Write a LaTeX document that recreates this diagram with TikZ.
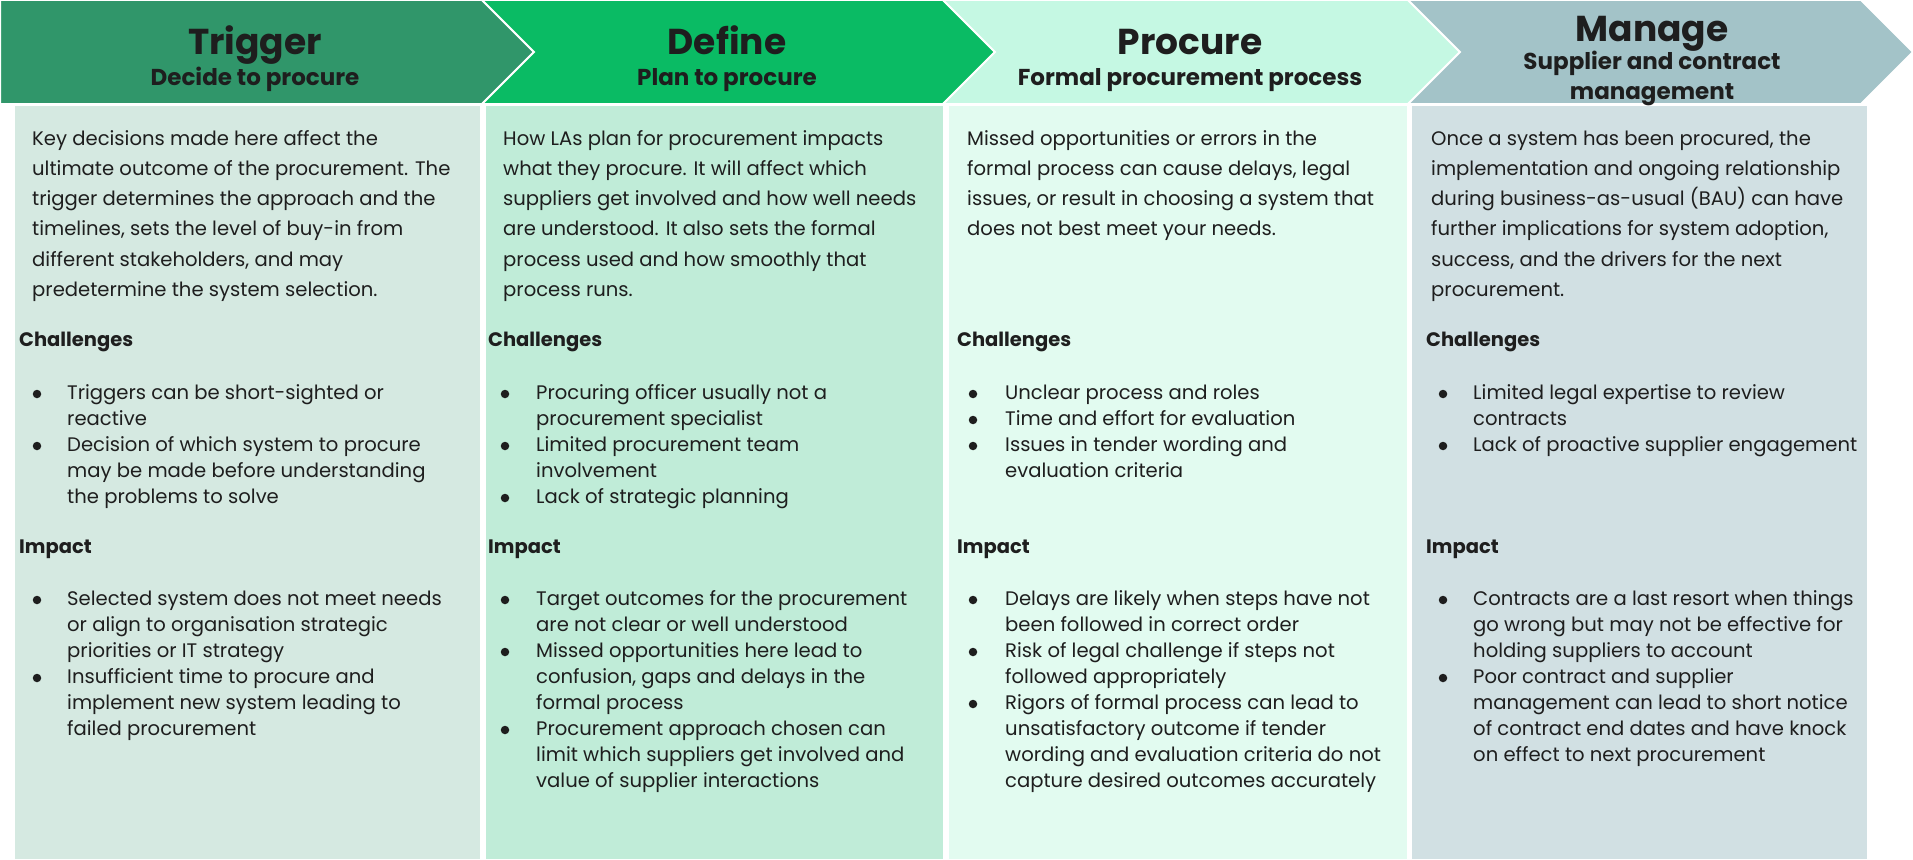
\documentclass[tikz,border=0pt]{standalone}
\usepackage{fontspec}
\setmainfont{Poppins}
\usetikzlibrary{positioning}

\definecolor{trighead}{HTML}{30966A}
\definecolor{defhead}{HTML}{0ABB64}
\definecolor{prochead}{HTML}{C5F8E3}
\definecolor{manhead}{HTML}{A3C3C8}
\definecolor{trigbody}{HTML}{D5E9E1}
\definecolor{defbody}{HTML}{C0ECD8}
\definecolor{procbody}{HTML}{E2FBF0}
\definecolor{manbody}{HTML}{D1E0E3}
\definecolor{ink}{HTML}{1E1E1E}

% fixed height for the first line of a block, so that blocks hang from their top
\newcommand{\topline}{\rule{0pt}{17pt}}

\begin{document}
\begin{tikzpicture}[x=1pt, y=-1pt,
    chev/.style={draw=white, line width=2pt},
    title/.style={font=\fontsize{36}{40}\selectfont\bfseries, text=ink, inner sep=0pt, anchor=base},
    sub/.style={font=\fontsize{23}{29}\selectfont\bfseries, text=ink, inner sep=0pt, anchor=base, align=center},
    para/.style={font=\fontsize{19.6}{30.2}\selectfont, text=ink, inner sep=0pt, anchor=north west, align=left},
    sect/.style={font=\fontsize{19.5}{26}\selectfont\bfseries, text=ink, inner sep=0pt, anchor=base west},
    item/.style={font=\fontsize{19.6}{26}\selectfont, text=ink, inner sep=0pt, anchor=north west, align=left},
    dot/.style={circle, fill=ink, inner sep=0pt, minimum size=8.5pt}]
    \useasboundingbox (0,0) rectangle (1913,859);

    % chevron band along the top
    \foreach \xl/\xr/\n/\col in {0/482/0/trighead, 482/943/52/defhead, 943/1408/52/prochead, 1408/1861/52/manhead} {
        \filldraw[chev, fill=\col] (\xl,0) -- (\xr,0) -- ({\xr+52},52) -- (\xr,104)
            -- (\xl,104) -- ({\xl+\n},52) -- cycle;
    }

    % column panels
    \fill[trigbody] (15,106) rectangle (480,859);
    \fill[defbody]  (486,106) rectangle (943,859);
    \fill[procbody] (949,106) rectangle (1407,859);
    \fill[manbody]  (1412,106) rectangle (1867,859);

    % stage titles
    \node[title] (h1) at (255,55) {Trigger};
    \node[sub]   (s1) at (255,85) {Decide to procure};
    \node[title] (h2) at (727,55) {Define};
    \node[sub]   (s2) at (727,85) {Plan to procure};
    \node[title] (h3) at (1190,55) {Procure};
    \node[sub]   (s3) at (1190,85) {Formal procurement process};
    \node[title] (h4) at (1652,42) {Manage};
    \node[sub]   (s4) at (1652,99) {Supplier and contract\\management};

    % Trigger
    \node[para] (p1) at (32,128) {\topline Key decisions made here affect the\\ultimate outcome of the procurement. The\\trigger determines the approach and the\\timelines, sets the level of buy-in from\\different stakeholders, and may\\predetermine the system selection.};
    \node[sect] (c1) at (19,346) {Challenges};
    \node[dot] (c1a) at (37,394) {};
    \node[item] (c1at) at (67,382.5) {\topline Triggers can be short-sighted or\\reactive};
    \node[dot] (c1b) at (37,446) {};
    \node[item] (c1bt) at (67,434.5) {\topline Decision of which system to procure\\may be made before understanding\\the problems to solve};
    \node[sect] (i1) at (19,553) {Impact};
    \node[dot] (i1a) at (37,600) {};
    \node[item] (i1at) at (67,588.5) {\topline Selected system does not meet needs\\or align to organisation strategic\\priorities or IT strategy};
    \node[dot] (i1b) at (37,678) {};
    \node[item] (i1bt) at (67,666.5) {\topline Insufficient time to procure and\\implement new system leading to\\failed procurement};

    % Define
    \node[para] (p2) at (503,128) {\topline How LAs plan for procurement impacts\\what they procure. It will affect which\\suppliers get involved and how well needs\\are understood. It also sets the formal\\process used and how smoothly that\\process runs.};
    \node[sect] (c2) at (488,346) {Challenges};
    \node[dot] (c2a) at (505,394) {};
    \node[item] (c2at) at (536,382.5) {\topline Procuring officer usually not a\\procurement specialist};
    \node[dot] (c2b) at (505,446) {};
    \node[item] (c2bt) at (536,434.5) {\topline Limited procurement team\\involvement};
    \node[dot] (c2c) at (505,498) {};
    \node[item] (c2ct) at (536,486.5) {\topline Lack of strategic planning};
    \node[sect] (i2) at (488,553) {Impact};
    \node[dot] (i2a) at (505,600) {};
    \node[item] (i2at) at (536,588.5) {\topline Target outcomes for the procurement\\are not clear or well understood};
    \node[dot] (i2b) at (505,652) {};
    \node[item] (i2bt) at (536,640.5) {\topline Missed opportunities here lead to\\confusion, gaps and delays in the\\formal process};
    \node[dot] (i2c) at (505,730) {};
    \node[item] (i2ct) at (536,718.5) {\topline Procurement approach chosen can\\limit which suppliers get involved and\\value of supplier interactions};

    % Procure
    \node[para] (p3) at (967,128) {\topline Missed opportunities or errors in the\\formal process can cause delays, legal\\issues, or result in choosing a system that\\does not best meet your needs.};
    \node[sect] (c3) at (957,346) {Challenges};
    \node[dot] (c3a) at (973,394) {};
    \node[item] (c3at) at (1005,382.5) {\topline Unclear process and roles};
    \node[dot] (c3b) at (973,420) {};
    \node[item] (c3bt) at (1005,408.5) {\topline Time and effort for evaluation};
    \node[dot] (c3c) at (973,446) {};
    \node[item] (c3ct) at (1005,434.5) {\topline Issues in tender wording and\\evaluation criteria};
    \node[sect] (i3) at (957,553) {Impact};
    \node[dot] (i3a) at (973,600) {};
    \node[item] (i3at) at (1005,588.5) {\topline Delays are likely when steps have not\\been followed in correct order};
    \node[dot] (i3b) at (973,652) {};
    \node[item] (i3bt) at (1005,640.5) {\topline Risk of legal challenge if steps not\\followed appropriately};
    \node[dot] (i3c) at (973,704) {};
    \node[item] (i3ct) at (1005,692.5) {\topline Rigors of formal process can lead to\\unsatisfactory outcome if tender\\wording and evaluation criteria do not\\capture desired outcomes accurately};

    % Manage
    \node[para] (p4) at (1431,128) {\topline Once a system has been procured, the\\implementation and ongoing relationship\\during business-as-usual (BAU) can have\\further implications for system adoption,\\success, and the drivers for the next\\procurement.};
    \node[sect] (c4) at (1426,346) {Challenges};
    \node[dot] (c4a) at (1443,394) {};
    \node[item] (c4at) at (1473,382.5) {\topline Limited legal expertise to review\\contracts};
    \node[dot] (c4b) at (1443,446) {};
    \node[item] (c4bt) at (1473,434.5) {\topline Lack of proactive supplier engagement};
    \node[sect] (i4) at (1426,553) {Impact};
    \node[dot] (i4a) at (1443,600) {};
    \node[item] (i4at) at (1473,588.5) {\topline Contracts are a last resort when things\\go wrong but may not be effective for\\holding suppliers to account};
    \node[dot] (i4b) at (1443,678) {};
    \node[item] (i4bt) at (1473,666.5) {\topline Poor contract and supplier\\management can lead to short notice\\of contract end dates and have knock\\on effect to next procurement};
\end{tikzpicture}
\end{document}
